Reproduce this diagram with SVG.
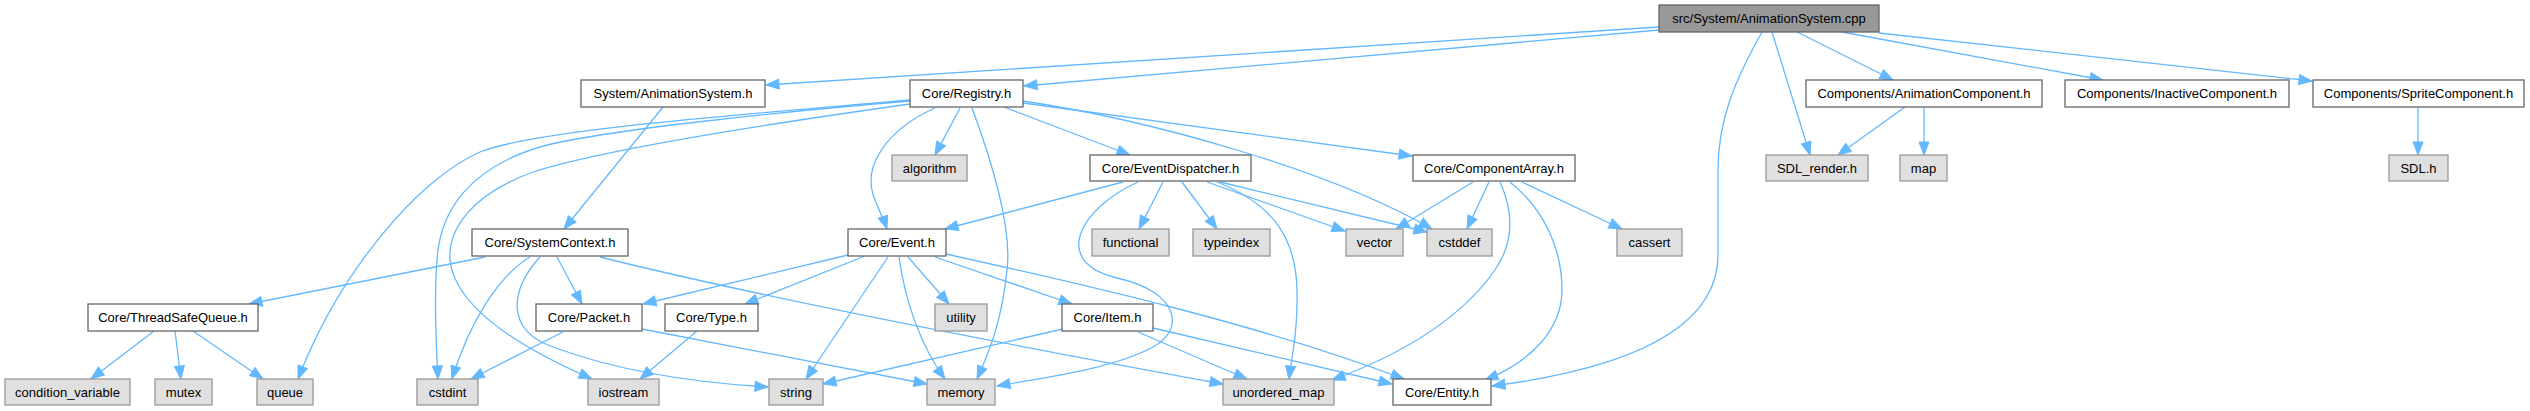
<svg xmlns="http://www.w3.org/2000/svg" width="2530" height="411" viewBox="0 0 2530 411">
<style>
.n rect{fill:#ffffff;stroke:#666666;stroke-width:1.3}
.s rect{fill:#e0e0e0;stroke:#999999;stroke-width:1.3}
.r rect{fill:#999999;stroke:#666666;stroke-width:1.3}
text{font-family:"Liberation Sans",Arial,sans-serif;font-size:13px;fill:#000000;text-anchor:middle}
#edges path{fill:none;stroke:#63b8ff;stroke-width:1.3;marker-end:url(#a)}
</style>
<defs>
<marker id="a" markerUnits="userSpaceOnUse" markerWidth="14" markerHeight="11" refX="13" refY="5" orient="auto" overflow="visible">
<path d="M0,0 L13,5 L0,10 z" fill="#63b8ff" stroke="#63b8ff" stroke-width="1"/>
</marker>
</defs>
<rect width="2530" height="411" fill="#ffffff"/>
<g id="edges">
<path d="M1659,27 L766,85"/>
<path d="M1659,30 L1024,86"/>
<path d="M1772,32 L1810,155"/>
<path d="M1797,32 L1893,80"/>
<path d="M1842,32 L2103,80"/>
<path d="M1879,33 L2312,81"/>
<path d="M1762,32 C1735,80 1718,120 1718,170 L1718,255 C1718,340 1600,372 1492,386"/>
<path d="M663,107 L564,229"/>
<path d="M910,100 C780,112 540,128 480,152 C420,178 340,270 298,379"/>
<path d="M910,101 C800,110 600,130 540,147 C470,168 440,210 437,260 C434,300 436,340 438,379"/>
<path d="M910,104 C760,125 600,150 533,172 C470,195 448,230 450,260 C455,310 530,352 592,379"/>
<path d="M960,108 L935,155"/>
<path d="M972,108 C995,170 1012,230 1007,270 C1002,320 990,350 977,379"/>
<path d="M935,108 C890,128 860,165 875,200 C879,210 884,220 887,229"/>
<path d="M1004,107 L1130,155"/>
<path d="M1023,103 L1412,156"/>
<path d="M1023,101 C1150,120 1330,170 1432,229"/>
<path d="M1123,182 L945,229"/>
<path d="M1138,182 C1080,208 1050,262 1117,278 C1180,292 1185,330 1153,347 C1110,370 1040,378 997,386"/>
<path d="M1163,182 L1139,229"/>
<path d="M1182,182 L1217,229"/>
<path d="M1207,182 L1345,231"/>
<path d="M1220,182 L1427,232"/>
<path d="M1217,182 C1275,205 1296,240 1297,290 C1298,330 1292,355 1289,379"/>
<path d="M1473,182 L1396,229"/>
<path d="M1489,182 L1467,229"/>
<path d="M1500,182 C1515,215 1512,245 1495,270 C1460,320 1400,355 1332,380"/>
<path d="M1510,182 C1545,210 1562,250 1562,290 C1562,330 1530,362 1485,380"/>
<path d="M1522,182 L1622,229"/>
<path d="M485,257 L249,304"/>
<path d="M530,257 C500,275 470,320 452,379"/>
<path d="M540,257 C510,290 505,330 553,347 C620,372 700,383 768,387"/>
<path d="M557,257 L582,304"/>
<path d="M600,257 C700,282 900,325 1223,384"/>
<path d="M154,331 L91,379"/>
<path d="M175,331 L181,379"/>
<path d="M193,331 L263,379"/>
<path d="M563,332 L471,379"/>
<path d="M642,329 L927,384"/>
<path d="M697,331 L640,379"/>
<path d="M848,255 L643,304"/>
<path d="M865,256 L745,304"/>
<path d="M888,257 L806,379"/>
<path d="M899,257 C905,300 920,345 945,379"/>
<path d="M908,257 L949,304"/>
<path d="M935,257 L1072,304"/>
<path d="M946,254 C1100,288 1260,325 1404,379"/>
<path d="M1063,329 L823,384"/>
<path d="M1138,332 L1247,379"/>
<path d="M1153,328 L1392,384"/>
<path d="M1905,107 L1838,155"/>
<path d="M1924,107 L1924,155"/>
<path d="M2418,107 L2418,155"/>
</g>
<g id="n0" class="r"><rect x="1659" y="5" width="220" height="27"/><text x="1769" y="23">src/System/AnimationSystem.cpp</text></g>
<g id="n1" class="n"><rect x="581" y="80" width="184" height="27"/><text x="673" y="98">System/AnimationSystem.h</text></g>
<g id="n2" class="n"><rect x="910" y="80" width="113" height="27"/><text x="966.5" y="98">Core/Registry.h</text></g>
<g id="n3" class="n"><rect x="1806" y="80" width="236" height="27"/><text x="1924" y="98">Components/AnimationComponent.h</text></g>
<g id="n4" class="n"><rect x="2065" y="80" width="224" height="27"/><text x="2177" y="98">Components/InactiveComponent.h</text></g>
<g id="n5" class="n"><rect x="2313" y="80" width="211" height="27"/><text x="2418.5" y="98">Components/SpriteComponent.h</text></g>
<g id="n6" class="s"><rect x="892" y="155" width="75" height="26"/><text x="929.5" y="172.5">algorithm</text></g>
<g id="n7" class="n"><rect x="1090" y="155" width="161" height="26"/><text x="1170.5" y="172.5">Core/EventDispatcher.h</text></g>
<g id="n8" class="n"><rect x="1413" y="155" width="162" height="26"/><text x="1494" y="172.5">Core/ComponentArray.h</text></g>
<g id="n9" class="s"><rect x="1766" y="155" width="102" height="26"/><text x="1817" y="172.5">SDL_render.h</text></g>
<g id="n10" class="s"><rect x="1900" y="155" width="47" height="26"/><text x="1923.5" y="172.5">map</text></g>
<g id="n11" class="s"><rect x="2389" y="155" width="59" height="26"/><text x="2418.5" y="172.5">SDL.h</text></g>
<g id="n12" class="n"><rect x="472" y="229" width="156" height="27"/><text x="550" y="247">Core/SystemContext.h</text></g>
<g id="n13" class="n"><rect x="848" y="229" width="98" height="27"/><text x="897" y="247">Core/Event.h</text></g>
<g id="n14" class="s"><rect x="1092" y="229" width="77" height="27"/><text x="1130.5" y="247">functional</text></g>
<g id="n15" class="s"><rect x="1193" y="229" width="77" height="27"/><text x="1231.5" y="247">typeindex</text></g>
<g id="n16" class="s"><rect x="1346" y="229" width="57" height="27"/><text x="1374.5" y="247">vector</text></g>
<g id="n17" class="s"><rect x="1427" y="229" width="65" height="27"/><text x="1459.5" y="247">cstddef</text></g>
<g id="n18" class="s"><rect x="1617" y="229" width="65" height="27"/><text x="1649.5" y="247">cassert</text></g>
<g id="n19" class="n"><rect x="88" y="304" width="170" height="27"/><text x="173" y="322">Core/ThreadSafeQueue.h</text></g>
<g id="n20" class="n"><rect x="536" y="304" width="106" height="27"/><text x="589" y="322">Core/Packet.h</text></g>
<g id="n21" class="n"><rect x="665" y="304" width="93" height="27"/><text x="711.5" y="322">Core/Type.h</text></g>
<g id="n22" class="s"><rect x="935" y="304" width="52" height="27"/><text x="961" y="322">utility</text></g>
<g id="n23" class="n"><rect x="1062" y="304" width="91" height="27"/><text x="1107.5" y="322">Core/Item.h</text></g>
<g id="n24" class="s"><rect x="5" y="379" width="125" height="26"/><text x="67.5" y="396.5">condition_variable</text></g>
<g id="n25" class="s"><rect x="155" y="379" width="57" height="26"/><text x="183.5" y="396.5">mutex</text></g>
<g id="n26" class="s"><rect x="257" y="379" width="56" height="26"/><text x="285" y="396.5">queue</text></g>
<g id="n27" class="s"><rect x="417" y="379" width="61" height="26"/><text x="447.5" y="396.5">cstdint</text></g>
<g id="n28" class="s"><rect x="588" y="379" width="71" height="26"/><text x="623.5" y="396.5">iostream</text></g>
<g id="n29" class="s"><rect x="769" y="379" width="54" height="26"/><text x="796" y="396.5">string</text></g>
<g id="n30" class="s"><rect x="927" y="379" width="68" height="26"/><text x="961" y="396.5">memory</text></g>
<g id="n31" class="s"><rect x="1223" y="379" width="111" height="26"/><text x="1278.5" y="396.5">unordered_map</text></g>
<g id="n32" class="n"><rect x="1393" y="379" width="98" height="26"/><text x="1442" y="396.5">Core/Entity.h</text></g>
</svg>
